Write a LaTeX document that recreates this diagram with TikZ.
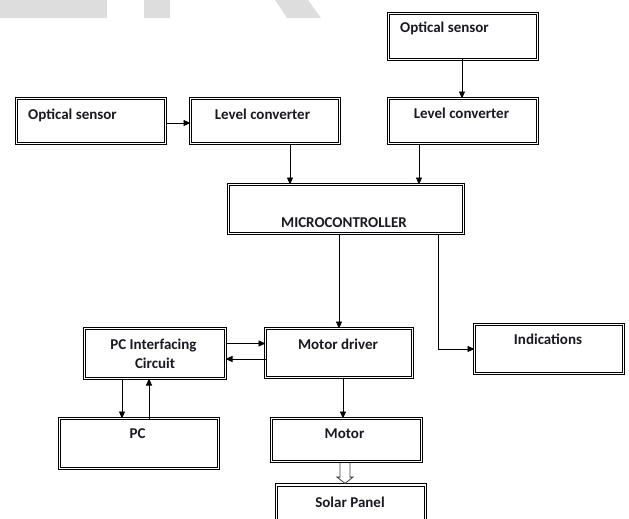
\documentclass[tikz,border=0pt]{standalone}
\usepackage{fontspec}
\setmainfont{Carlito}
\usetikzlibrary{arrows.meta,calc}
\definecolor{txtc}{RGB}{25,25,35}
\definecolor{wm}{RGB}{221,221,221}
\tikzset{
  box/.style={draw=black, double=white, double distance=1.6pt, line width=0.8pt,
              rectangle, inner sep=0pt, outer sep=0pt},
  lbl/.style={font=\fontsize{15}{18}\selectfont\bfseries, text=txtc, inner sep=0pt},
  arr/.style={line width=0.9pt, -{Triangle[length=7pt,width=6pt]}},
  hollow/.style={draw=black!75, fill=white, line width=0.8pt},
}
\begin{document}
\begin{tikzpicture}[x=1pt,y=-1pt]
\fill[white] (0,0) rectangle (629,519);
\useasboundingbox (0,0) rectangle (629,519);
\clip (0,0) rectangle (629,519);
% watermark shapes
\fill[wm] (0,0) rectangle (107,18);
\fill[wm] (144,0) rectangle (170,18);
\fill[wm] (275,0) -- (308,0) -- (321,18) -- (287,18) -- cycle;
% boxes
\node[box, minimum width=149pt, minimum height=45pt] (os1) at (91,121) {};
\node[box, minimum width=149pt, minimum height=45pt] (lc1) at (265,121) {};
\node[box, minimum width=149pt, minimum height=46pt] (os2) at (463,36.5) {};
\node[box, minimum width=149pt, minimum height=45pt] (lc2) at (463,121) {};
\node[box, minimum width=235pt, minimum height=49pt] (mc) at (346,209) {};
\node[box, minimum width=147pt, minimum height=49pt] (md) at (339,353) {};
\node[box, minimum width=149pt, minimum height=49pt] (ind) at (549,349) {};
\node[box, minimum width=141pt, minimum height=50pt] (pci) at (155,353.5) {};
\node[box, minimum width=159pt, minimum height=50pt] (pc) at (139,443.5) {};
\node[box, minimum width=150pt, minimum height=43pt] (mot) at (346.5,440) {};
\node[box, minimum width=149pt, minimum height=50pt] (sp) at (351,510) {};
% labels
\node[lbl, anchor=base west] (t1) at (28,119) {Optical sensor};
\node[lbl, anchor=base west] (t2) at (400,33) {Optical sensor};
\node[lbl, anchor=base] (t3) at (262.5,119) {Level converter};
\node[lbl, anchor=base] (t4) at (461.5,118) {Level converter};
\node[lbl, anchor=base] (t5) at (344,227) {MICROCONTROLLER};
\node[lbl, anchor=base] (t6) at (338,349) {Motor driver};
\node[lbl, anchor=base] (t7) at (548,344) {Indications};
\node[lbl, anchor=base] (t8) at (153.5,349) {PC Interfacing};
\node[lbl, anchor=base] (t9) at (155,368) {Circuit};
\node[lbl, anchor=base] (t10) at (137.5,438) {PC};
\node[lbl, anchor=base] (t11) at (344.5,438) {Motor};
\node[lbl, anchor=base] (t12) at (350,507) {Solar Panel};
% connectors
\draw[arr] ([yshift=-2pt]os1.east) -- ([yshift=-2pt]lc1.west);
\draw[arr] ([xshift=-1pt]os2.south) -- ([xshift=-1pt]lc2.north);
\draw[arr] ([xshift=25pt]lc1.south) -- ([xshift=25pt]lc1.south |- mc.north);
\draw[arr] ([xshift=-44pt]lc2.south) -- ([xshift=-44pt]lc2.south |- mc.north);
\draw[arr] (mc.south -| md.north) -- (md.north);
\draw[arr] ([xshift=92pt]mc.south) |- (ind.west);
\draw[arr] ([yshift=10pt]pci.east) -- ([yshift=10pt]pci.east -| md.west);
\draw[arr] ([yshift=-6pt]md.west) -- ([yshift=-6pt]md.west -| pci.east);
\draw[arr] ([xshift=-33pt]pci.south) -- ([xshift=-33pt]pci.south |- pc.north);
\draw[arr] ([xshift=-6pt]pci.south |- pc.north) -- ([xshift=-6pt]pci.south);
\draw[arr] ([xshift=4pt]md.south) -- ([xshift=4pt]md.south |- mot.north);
% hollow arrow
\coordinate (ha) at ($(mot.south)+(-1.5,1.6)$);
\coordinate (hb) at ($(ha |- sp.north)+(0,-1.6)$);
\draw[hollow] ($(ha)+(-5,0)$) -- ($(ha)+(-5,14)$) -- ($(ha)+(-8,14)$) -- (hb)
  -- ($(ha)+(8,14)$) -- ($(ha)+(5,14)$) -- ($(ha)+(5,0)$);
\end{tikzpicture}
\end{document}
